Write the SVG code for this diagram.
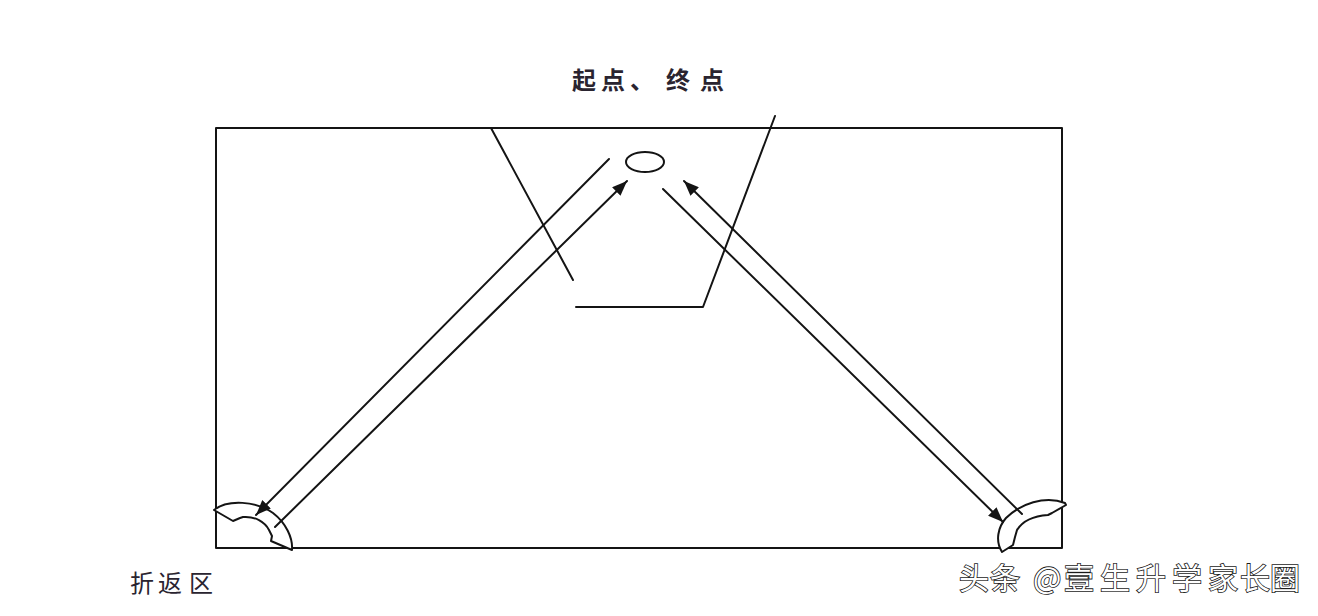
<svg xmlns="http://www.w3.org/2000/svg" width="1318" height="616" viewBox="0 0 1318 616">
<style>
.ln{fill:none;stroke:#141414;stroke-width:2;stroke-linecap:round;stroke-linejoin:round}
.zone{fill:#fff;stroke:#141414;stroke-width:2;stroke-linejoin:round}
.lbl{font-family:"Noto Sans CJK SC","Noto Sans",sans-serif;font-size:24px;font-weight:bold;fill:#2a2430}
.wm{font-family:"Noto Sans CJK SC","Noto Sans",sans-serif;font-size:30px;fill:#fff;stroke:#1a1a1a;stroke-width:1.6;paint-order:stroke}
</style>
<defs>
<marker id="ah" markerUnits="userSpaceOnUse" markerWidth="16" markerHeight="12" refX="15" refY="6" orient="auto">
<path d="M0,0 L15,6 L0,12 Z" fill="#141414"/>
</marker>
</defs>
<rect width="1318" height="616" fill="#fff"/>
<g id="field"><rect x="216" y="128" width="846" height="420" class="ln"/></g>
<g id="turn-zone-left"><path class="zone" d="M214,510 C228,499 256,501 273,513 C286,523 293,538 292,550 L271,541 L272,536 L269,530 C265,522 255,516 243,517 L240,518 L233,521 Z"/></g>
<g id="turn-zone-right"><path class="zone" d="M1065,503 C1045,495 1020,504 1006,518 C998,527 995,541 1002,552 L1013,545 L1015,537 L1017,530 C1022,522 1033,516 1048,515 L1052,513 L1066,505 Z"/></g>
<g id="start-end"><ellipse cx="645" cy="162" rx="19" ry="10" class="ln"/></g>
<g id="label-start-end">
<text class="lbl" x="572 601 630 666 700" y="89">起点、终点</text>
<path class="ln" d="M491,128 L573,280"/>
<path class="ln" d="M576,307 L703,307 L775,116"/>
</g>
<g id="label-turn"><text class="lbl" x="130 158 189" y="592" style="font-weight:normal">折返区</text></g>
<g id="connectors">
<path class="ln" d="M609,159 L256,515" marker-end="url(#ah)"/>
<path class="ln" d="M275,527 L627,181" marker-end="url(#ah)"/>
<path class="ln" d="M663,189 L1003,522" marker-end="url(#ah)"/>
<path class="ln" d="M1022,514 L684,181" marker-end="url(#ah)"/>
</g>
<g id="watermark"><text class="wm" x="959 990 1020 1033 1064 1100 1136 1172 1208 1240 1270" y="589">头条 @壹生升学家长圈</text></g>
</svg>
